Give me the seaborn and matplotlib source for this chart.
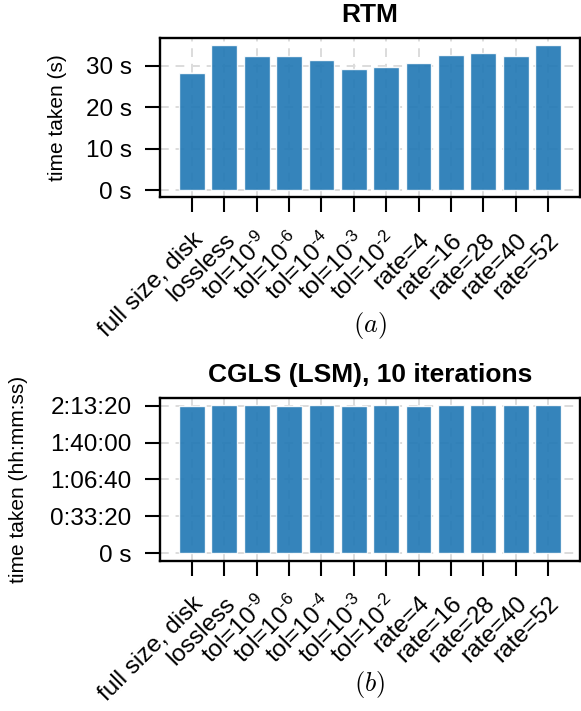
import numpy as np
import pandas as pd
import matplotlib
matplotlib.use("Agg")
import matplotlib.pyplot as plt
import matplotlib.transforms as mtransforms
import seaborn as sns
from matplotlib.ticker import FuncFormatter

# =========================
# DATA
# =========================
labels = [
    "full size, disk", "lossless",
    r"tol=10$^{\text{-}9}$", r"tol=10$^{\text{-}6}$", r"tol=10$^{\text{-}4}$",
    r"tol=10$^{\text{-}3}$", r"tol=10$^{\text{-}2}$",
    "rate=4", "rate=16", "rate=28", "rate=40", "rate=52",
]
rtm_seconds = [28.2, 35.0, 32.3, 32.3, 31.4, 29.3, 29.7, 30.7, 32.6, 33.1, 32.3, 35.0]
cgls_seconds = [7985, 8030, 8030, 7985, 8030, 7985, 8030, 7985, 8030, 8030, 8030, 8030]
rtm_ticks = [0, 10, 20, 30]
cgls_ticks = [0, 2000, 4000, 6000, 8000]

# =========================
# STYLE
# =========================
sns.set_theme(style="ticks")
plt.rcParams["font.family"] = ["Liberation Sans", "DejaVu Sans"]
plt.rcParams["mathtext.fontset"] = "custom"
plt.rcParams["mathtext.rm"] = "Liberation Sans"
plt.rcParams["mathtext.it"] = "Liberation Sans:italic"
plt.rcParams["mathtext.bf"] = "Liberation Sans:bold"
for key in ["text.color", "axes.labelcolor", "xtick.color", "ytick.color",
            "xtick.labelcolor", "ytick.labelcolor"]:
    plt.rcParams[key] = "black"

bar_color = "#1f77b4"


def fmt_seconds(v, pos):
    return f"{v:g} s"


def fmt_hms(v, pos):
    if v == 0:
        return "0 s"
    v = int(round(v))
    h, rem = divmod(v, 3600)
    m, s = divmod(rem, 60)
    return f"{h}:{m:02d}:{s:02d}"


def draw_panel(fig, ax, values, ticks, title, ylabel, formatter, label_x):
    df = pd.DataFrame({"setting": labels, "time": values})
    sns.barplot(data=df, x="setting", y="time", color=bar_color,
                saturation=1, alpha=0.9, width=0.8, ax=ax, zorder=2)
    n = len(values)
    top = max(values)
    # default 5% margins around the bars, both ways
    ax.set_xlim(-0.4 - 0.05 * (n - 0.2), n - 0.6 + 0.05 * (n - 0.2))
    ax.set_ylim(-0.05 * top, 1.05 * top)
    ax.set_yticks(ticks)
    ax.yaxis.set_major_formatter(FuncFormatter(formatter))
    ax.set_axisbelow(True)
    ax.grid(True, linestyle=(0, (4.5, 3.5)), color="#dcdcdc", linewidth=1.4)
    for sp in ax.spines.values():
        sp.set_visible(True)
        sp.set_color("black")
        sp.set_linewidth(1.7)
    ax.tick_params(axis="both", direction="out", length=10.5, width=1.5,
                   color="black", labelcolor="black", labelsize=17.5)
    ax.tick_params(axis="y", pad=10)
    ax.tick_params(axis="x", pad=18)
    ax.set_xticks(range(n))
    ax.set_xticklabels(labels, rotation=45, ha="right", rotation_mode="anchor",
                       va="center")
    shift = mtransforms.ScaledTranslation(8 / 100, 0, fig.dpi_scale_trans)
    for lab in ax.get_xticklabels():
        lab.set_transform(lab.get_transform() + shift)
    ax.set_xlabel("")
    ax.set_ylabel(ylabel, fontsize=15, color="black")
    ax.yaxis.set_label_coords(label_x, 0.5)
    ax.set_title(title, fontsize=19, fontweight="bold", pad=11, color="black")


fig = plt.figure(figsize=(5.81, 7.11), dpi=100)
ax1 = fig.add_axes([0.2754, 0.7225, 0.7229, 0.2245])
ax2 = fig.add_axes([0.2754, 0.2114, 0.7229, 0.2293])

draw_panel(fig, ax1, rtm_seconds, rtm_ticks, "RTM", "time taken (s)",
           fmt_seconds, -0.221)
draw_panel(fig, ax2, cgls_seconds, cgls_ticks, "CGLS (LSM), 10 iterations",
           "time taken (hh:mm:ss)", fmt_hms, -0.314)

fig.text(370 / 581, 1 - 325 / 711, "$(a)$", ha="center", va="center",
         fontsize=19, math_fontfamily="cm", color="black")
fig.text(370 / 581, 1 - 685 / 711, "$(b)$", ha="center", va="center",
         fontsize=19, math_fontfamily="cm", color="black")

fig.savefig("out.png", dpi=100)
